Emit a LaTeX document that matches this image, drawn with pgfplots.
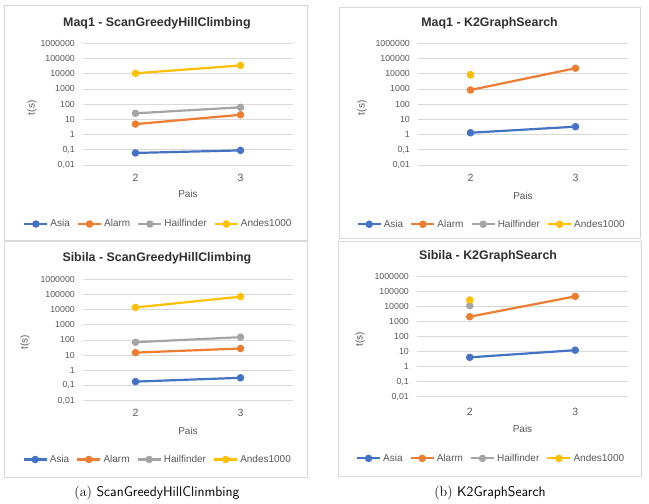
\documentclass[border=0pt]{standalone}
\usepackage{pgfplots}
\pgfplotsset{compat=1.18}
\usepackage{fontspec}
\newfontfamily\xl{Liberation Sans}
\definecolor{asia}{HTML}{4472C4}
\definecolor{alarm}{HTML}{ED7D31}
\definecolor{hail}{HTML}{A5A5A5}
\definecolor{andes}{HTML}{FFC000}
\definecolor{gridc}{HTML}{D9D9D9}
\definecolor{txt}{HTML}{595959}
\definecolor{ttl}{HTML}{303030}
\definecolor{framec}{HTML}{D9D9D9}
\pgfplotsset{
 every axis title shift=0pt,
 every axis/.append style={
  scale only axis, width=210pt, height=121.7pt,
  ymin=0.01, ymax=1000000,
  xmin=1.5, xmax=3.5, xtick={2,3}, xticklabels={2,3},
  ytick={0.01,0.1,1,10,100,1000,10000,100000,1000000},
  yticklabels={{0,01},{0,1},1,10,100,1000,10000,100000,1000000},
  ymajorgrids, grid style={draw=gridc, line width=0.7pt},
  axis line style={draw=none}, major tick length=0pt, minor tick length=0pt,
  tick label style={font=\xl\fontsize{8.8}{10}\selectfont, text=txt},
  yticklabel style={anchor=east, inner sep=0pt, xshift=-8pt},
  xticklabel style={anchor=center, inner sep=0pt, font=\xl\fontsize{10.5}{12}\selectfont},
  xlabel={Pais}, ylabel={t(s)},
  xlabel style={font=\xl\fontsize{10}{12}\selectfont, text=txt, anchor=center, inner sep=0pt},
  ylabel style={font=\xl\fontsize{10}{12}\selectfont, text=txt, anchor=center, inner sep=0pt},
  title style={font=\xl\bfseries\fontsize{12.4}{14}\selectfont, text=ttl, anchor=center, inner sep=0pt, yshift=0pt},
  legend columns=4,
  legend style={draw=none, fill=none, font=\xl\fontsize{10}{12}\selectfont, text=txt, anchor=center, inner sep=0pt,
    /tikz/every even column/.append style={column sep=5pt}},
  clip=false,
 },
 every axis plot/.append style={line width=2.2pt, mark=*, mark size=2.6pt, mark options={solid, line width=0.4pt}},
 legend image code/.code={\draw[mark repeat=2,mark phase=2] plot coordinates {(0pt,0pt)(11.5pt,0pt)(23pt,0pt)};},
}
\begin{document}
\begin{tikzpicture}[x=1pt,y=1pt]
\fill[white] (0,0) rectangle (649,504);
\useasboundingbox (0,0) rectangle (649,504);
\draw[framec, line width=0.8pt] (4,264) rectangle (307,499);
\draw[framec, line width=0.8pt] (339,266) rectangle (640,497);
\draw[framec, line width=0.8pt] (4,27) rectangle (307,263);
\draw[framec, line width=0.8pt] (338,28) rectangle (641,263);

% Panel 1: Maq1 - ScanGreedyHillClimbing
\begin{semilogyaxis}[at={(83pt,339pt)}, anchor=south west,
  title={Maq1 - ScanGreedyHillClimbing}, title style={at={(0.352,1.166)}, anchor=center, yshift=0pt},
  xticklabel style={yshift=-13pt},
  xlabel style={at={(0.5,-0.238)}},
  ylabel style={at={(-0.243,0.47)}},
  legend style={at={(0.359,-0.485)}}]
\addplot[color=asia, mark options={fill=asia}] coordinates {(2,0.062) (3,0.091)};
\addplot[color=alarm, mark options={fill=alarm}] coordinates {(2,4.9) (3,20)};
\addplot[color=hail, mark options={fill=hail}] coordinates {(2,25) (3,62)};
\addplot[color=andes, mark options={fill=andes}] coordinates {(2,10700) (3,35000)};
\legend{Asia,Alarm,Hailfinder,Andes1000}
\end{semilogyaxis}

% Panel 2: Maq1 - K2GraphSearch
\begin{semilogyaxis}[at={(418pt,339pt)}, anchor=south west,
  title={Maq1 - K2GraphSearch}, title style={at={(0.341,1.166)}, anchor=center, yshift=0pt},
  xticklabel style={yshift=-13pt},
  xlabel style={at={(0.5,-0.252)}},
  ylabel style={at={(-0.267,0.47)}},
  legend style={at={(0.351,-0.487)}}]
\addplot[color=asia, mark options={fill=asia}] coordinates {(2,1.32) (3,3.3)};
\addplot[color=alarm, mark options={fill=alarm}] coordinates {(2,850) (3,23000)};
\addplot[color=hail, mark options={fill=hail}] coordinates {(2,8500)};
\addplot[color=andes, mark options={fill=andes}] coordinates {(2,8500)};
\legend{Asia,Alarm,Hailfinder,Andes1000}
\end{semilogyaxis}

% Panel 3: Sibila - ScanGreedyHillClimbing
\begin{semilogyaxis}[at={(83pt,103.3pt)}, anchor=south west,
  title={Sibila - ScanGreedyHillClimbing}, title style={at={(0.352,1.173)}, anchor=center, yshift=0pt},
  xticklabel style={yshift=-12.6pt},
  xlabel style={at={(0.5,-0.247)}},
  ylabel style={at={(-0.276,0.48)}},
  legend style={at={(0.356,-0.483)}}]
\addplot[color=asia, mark options={fill=asia}] coordinates {(2,0.18) (3,0.32)};
\addplot[color=alarm, mark options={fill=alarm}] coordinates {(2,14.5) (3,27)};
\addplot[color=hail, mark options={fill=hail}] coordinates {(2,70) (3,150)};
\addplot[color=andes, mark options={fill=andes}] coordinates {(2,13500) (3,69000)};
\legend{Asia,Alarm,Hailfinder,Andes1000}
\end{semilogyaxis}

% Panel 4: Sibila - K2GraphSearch
\begin{semilogyaxis}[at={(417pt,107.3pt)}, anchor=south west, width=211pt, height=120pt,
  title={Sibila - K2GraphSearch}, title style={at={(0.337,1.172)}, anchor=center, yshift=0pt},
  xticklabel style={yshift=-15pt},
  xlabel style={at={(0.5,-0.27)}},
  ylabel style={at={(-0.27,0.48)}},
  legend style={at={(0.351,-0.514)}}]
\addplot[color=asia, mark options={fill=asia}] coordinates {(2,4.2) (3,12.6)};
\addplot[color=alarm, mark options={fill=alarm}] coordinates {(2,2150) (3,49000)};
\addplot[color=hail, mark options={fill=hail}] coordinates {(2,11700)};
\addplot[color=andes, mark options={fill=andes}] coordinates {(2,28000)};
\legend{Asia,Alarm,Hailfinder,Andes1000}
\end{semilogyaxis}

\node[font=\fontsize{14}{16}\selectfont] at (157,11) {(a) \textsf{ScanGreedyHillClinmbing}};
\node[font=\fontsize{14}{16}\selectfont] at (490,11) {(b) \textsf{K2GraphSearch}};
\end{tikzpicture}
\end{document}
